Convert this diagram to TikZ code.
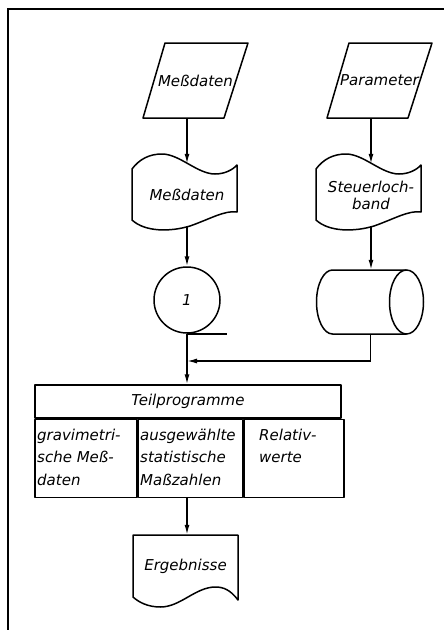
\documentclass[tikz,border=0pt]{standalone}
\usepackage{fontspec}
\setsansfont{DejaVu Sans}
\usepackage{tikz}
\usetikzlibrary{calc}
\usetikzlibrary{arrows.meta}

\tikzset{
    linie/.style = {line width=1.5pt, line join=round},
    fluss/.style = {line width=1.5pt, -{Latex[length=10pt,width=5pt]}},
    schrift/.style = {font=\sffamily\itshape\fontsize{15}{17}\selectfont, inner sep=0pt},
    spalte/.style = {font=\sffamily\itshape\fontsize{15}{22.5}\selectfont, inner sep=0pt, align=left, anchor=west},
    eingabe/.style = {minimum width=105pt, minimum height=75pt, inner sep=0pt, schrift},
    feld/.style = {minimum width=105pt, minimum height=62pt, inner sep=0pt, schrift, align=center}
}

% Eingabe (Parallelogramm)
\newcommand{\karte}[1]{%
    \draw[linie, shift={(#1.center)}] (-30.5,-37.5) -- (52.5,-37.5) -- (28.5,37.5) -- (-52.5,37.5) -- cycle;}
% Lochstreifen
\newcommand{\lochstreifen}[1]{%
    \draw[linie, shift={(#1.center)}] (-55,-26) .. controls (-47.5,-36) and (-37.5,-41) .. (-25,-41)
        .. controls (-7.5,-41) and (10.5,-21) .. (28,-21)
        .. controls (37.5,-21) and (45.5,-25) .. (50,-30) -- (50,17)
        .. controls (38,15) and (23,24) .. (3,31)
        .. controls (-17,37) and (-42,37) .. (-55,25) -- cycle;}
% Beleg
\newcommand{\beleg}[1]{%
    \draw[linie, shift={(#1.center)}] (-52.5,31) -- (-52.5,-31) -- (52.5,-31) -- (52.5,34)
        .. controls (45,24) and (38,21) .. (30,21)
        .. controls (10,21) and (-5,41) .. (-25,41)
        .. controls (-38,41) and (-47,36) .. (-52.5,31) -- cycle;}
% Trommelspeicher
\newcommand{\speicher}[1]{%
    \draw[linie, shift={(#1.center)}] (36,-32) -- (-38,-32)
        arc[start angle=270, end angle=90, x radius=16, y radius=32] -- (36,32);
    \draw[linie, shift={(#1.center)}] (36,0) ellipse [x radius=17, y radius=32];}

\begin{document}
\begin{tikzpicture}[x=1pt, y=-1pt]
    \useasboundingbox (0,0) rectangle (444,630);
    \draw[line width=1.3pt] (8,630) -- (8,9) -- (444,9);

    \node[eingabe] (inMd) at (195.5,80.5) {Meßdaten};
    \node[eingabe] (inPar) at (379.5,80.5) {Parameter};
    \karte{inMd}
    \karte{inPar}

    \node[feld] (lochMd) at (187,195) {Meßdaten};
    \node[feld] (lochSt) at (371,195) {Steuerloch-\\band};
    \lochstreifen{lochMd}
    \lochstreifen{lochSt}

    \node[draw, circle, linie, minimum size=66pt, schrift] (band) at (187,300) {1};
    \draw[linie] (band.south) -- ++(40,0);

    \node[minimum width=107pt, minimum height=64pt, inner sep=0pt] (trommel) at (370.5,302) {};
    \speicher{trommel}

    \node[draw, linie, minimum width=306pt, minimum height=33pt, schrift] (prog) at (188,401.5) {Teilprogramme};
    \node[draw, linie, minimum width=102pt, minimum height=78pt, anchor=north west] (sp1) at (prog.south west) {};
    \node[draw, linie, minimum width=104pt, minimum height=78pt, anchor=north west] (sp2) at (sp1.north east) {};
    \node[draw, linie, minimum width=100pt, minimum height=78pt, anchor=north west] (sp3) at (sp2.north east) {};
    \node[spalte] (txA) at (37,457) {gravimetri-\\sche Meß-\\daten};
    \node[spalte] (txB) at (140,457) {ausgewählte\\statistische\\Maßzahlen};
    \node[spalte] (txC) at (259,457) {Relativ-\\werte\\\mbox{}};

    \node[feld] (erg) at (185.5,566) {Ergebnisse};
    \beleg{erg}

    \coordinate (knoten) at (187,361);

    \draw[fluss] (inMd.south -| lochMd.north) -- (lochMd.north);
    \draw[fluss] (inPar.south -| lochSt.north) -- (lochSt.north);
    \draw[fluss] (lochMd.south) -- (band.north);
    \draw[fluss] (lochSt.south) -- (lochSt.south |- trommel.north);
    \draw[fluss] (trommel.south) |- (knoten);
    \draw[fluss] (band.south) -- (band.south |- prog.north);
    \draw[fluss] (sp2.south -| band.south) -- (erg.north -| band.south);

\end{tikzpicture}
\end{document}
